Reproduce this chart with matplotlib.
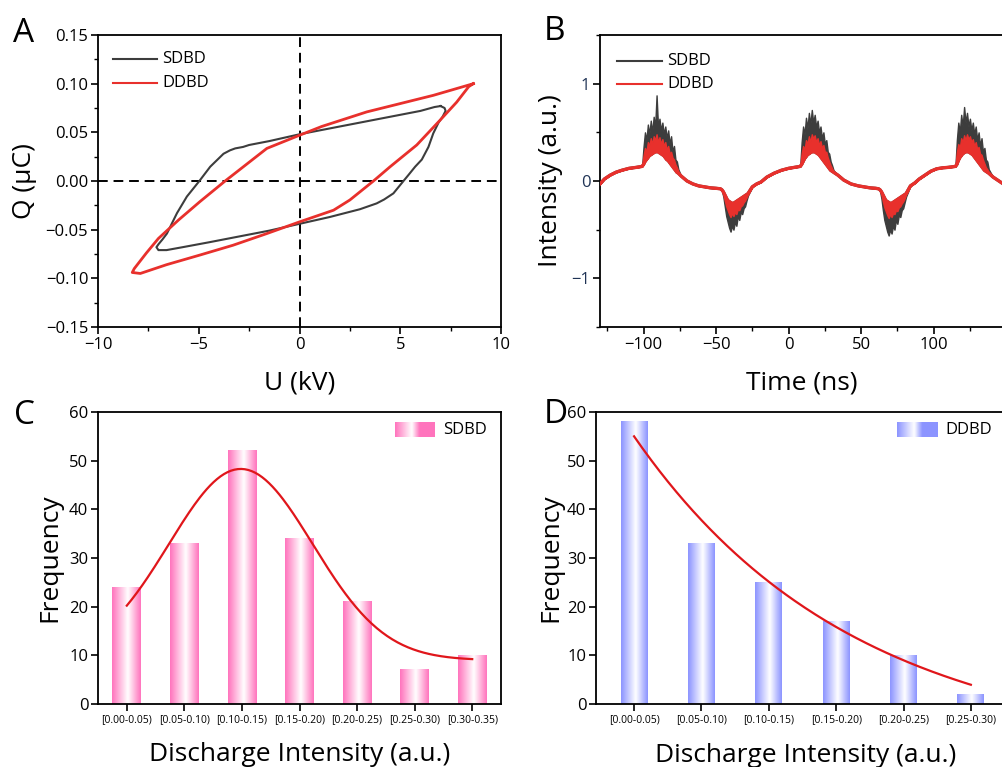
import numpy as np
import matplotlib
matplotlib.use("Agg")
import matplotlib.pyplot as plt
from matplotlib.colors import LinearSegmentedColormap
from matplotlib.ticker import MultipleLocator

plt.rcParams["font.family"] = ["Open Sans", "DejaVu Sans"]
plt.rcParams["axes.linewidth"] = 1.3

GRAY = "#3d3d3d"
RED = "#e8302c"
PINK = "#ff74bd"
BLUE = "#8c94ff"

# ── Panel A: Q-U Lissajous loops (U in kV, Q in uC) ──────────────────────────
SDBD_U = [7.0, 7.2, 7.25, 7.1, 6.9, 6.64, 6.4, 6.07, 5.74, 5.4, 5.16, 4.66, 4.2,
          3.83, 3.0, 1.5, 0.0, -1.5, -3.0, -4.5, -5.8, -6.6, -7.0, -7.1, -7.0,
          -6.8, -6.58, -6.08, -5.59, -4.97, -4.43, -3.77, -3.45, -3.19, -2.8,
          -2.5, -1.5, 0.0, 1.5, 3.0, 4.5, 6.0, 6.7, 7.0]
SDBD_Q = [0.077, 0.075, 0.072, 0.066, 0.060, 0.049, 0.035, 0.022, 0.0147, 0.006,
          0.0, -0.0127, -0.019, -0.023, -0.029, -0.037, -0.044, -0.051, -0.057,
          -0.063, -0.068, -0.071, -0.071, -0.068, -0.065, -0.060, -0.054, -0.033,
          -0.016, 0.0, 0.0147, 0.028, 0.0315, 0.0335, 0.035, 0.037, 0.041, 0.048,
          0.054, 0.060, 0.066, 0.072, 0.076, 0.077]

DDBD_U = [8.63, 6.64, 3.34, 1.1, 0.0, -1.62, -3.69, -4.93, -6.0, -7.0,
          -7.6, -8.2, -8.3, -7.9, -6.6, -4.93, -3.3, -1.62, 0.0, 1.69, 2.5,
          3.67, 4.5, 5.82, 7.0, 7.8, 8.4, 8.63]
DDBD_Q = [0.100, 0.088, 0.071, 0.056, 0.047, 0.0335, 0.0, -0.021, -0.040,
          -0.059, -0.074, -0.090, -0.094, -0.095, -0.086, -0.076, -0.066, -0.054,
          -0.042, -0.030, -0.0195, 0.0, 0.0147, 0.037, 0.063, 0.081, 0.097, 0.100]

# ── Panel B: emission waveform (base trace + burst extremes) ─────────────────
T_B = [-130, -127, -123, -119, -115, -110, -105, -101,
       -100, -99, -98, -97, -96, -95, -94, -93, -92, -91, -90, -89, -88, -87,
       -86, -85, -84, -83, -82, -81, -80, -79, -78, -77, -76,
       -74, -70, -66, -62, -58, -54, -50, -47,
       -46, -45, -44, -43, -42, -41, -40, -39, -38, -37, -36, -35, -34, -33,
       -32, -31, -30, -29, -28,
       -25, -22, -19, -15, -10, -5, 0, 4, 8,
       9, 10, 11, 12, 13, 14, 15, 16, 17, 18, 19, 20, 21, 22, 23, 24, 25, 26,
       27, 28, 29, 30, 31,
       34, 38, 43, 48, 52, 56, 60, 62,
       63, 64, 65, 66, 67, 68, 69, 70, 71, 72, 73, 74, 75, 76, 77, 78, 79, 80, 81,
       84, 87, 90, 94, 98, 102, 106, 110, 115,
       116, 117, 118, 119, 120, 121, 122, 123, 124, 125, 126, 127, 128, 129,
       130, 131, 132, 133, 134, 135, 136, 137, 138,
       141, 145, 148, 151]
BASE_B = [-0.03, 0.02, 0.06, 0.09, 0.11, 0.13, 0.14, 0.15,
          0.17, 0.20, 0.22, 0.24, 0.26, 0.27, 0.28, 0.29, 0.30, 0.30, 0.30, 0.29,
          0.28, 0.27, 0.26, 0.24, 0.22, 0.21, 0.19, 0.17, 0.15, 0.13, 0.11, 0.09, 0.08,
          0.05, 0.0, -0.03, -0.05, -0.06, -0.07, -0.075, -0.08,
          -0.09, -0.11, -0.14, -0.17, -0.20, -0.21, -0.22, -0.23, -0.23, -0.22,
          -0.21, -0.20, -0.19, -0.18, -0.17, -0.16, -0.15, -0.14, -0.13,
          -0.06, -0.03, -0.01, 0.04, 0.08, 0.11, 0.13, 0.14, 0.15,
          0.17, 0.20, 0.23, 0.25, 0.27, 0.28, 0.29, 0.30, 0.30, 0.30, 0.29, 0.28,
          0.27, 0.25, 0.23, 0.21, 0.19, 0.17, 0.15, 0.13, 0.11, 0.10, 0.09,
          0.06, 0.01, -0.03, -0.05, -0.06, -0.07, -0.075, -0.08,
          -0.09, -0.11, -0.14, -0.17, -0.20, -0.21, -0.22, -0.23, -0.23, -0.22,
          -0.21, -0.20, -0.19, -0.18, -0.17, -0.16, -0.15, -0.14, -0.13,
          -0.05, -0.02, 0.02, 0.06, 0.10, 0.125, 0.135, 0.14, 0.15,
          0.17, 0.21, 0.24, 0.26, 0.28, 0.29, 0.30, 0.30, 0.30, 0.29, 0.28, 0.27,
          0.25, 0.23, 0.21, 0.19, 0.17, 0.15, 0.13, 0.11, 0.10, 0.09, 0.08,
          0.04, 0.0, -0.03, -0.05]
DDBD_EXT = [-0.03, 0.02, 0.06, 0.09, 0.11, 0.13, 0.14, 0.15,
            0.26, 0.34, 0.30, 0.40, 0.36, 0.44, 0.38, 0.46, 0.42, 0.48, 0.40, 0.45,
            0.38, 0.43, 0.36, 0.40, 0.32, 0.36, 0.28, 0.30, 0.24, 0.22, 0.17, 0.14, 0.10,
            0.05, 0.0, -0.03, -0.05, -0.06, -0.07, -0.075, -0.08,
            -0.10, -0.14, -0.20, -0.26, -0.30, -0.34, -0.37, -0.33, -0.36, -0.32,
            -0.34, -0.29, -0.30, -0.26, -0.25, -0.22, -0.20, -0.17, -0.14,
            -0.06, -0.03, -0.01, 0.04, 0.08, 0.11, 0.13, 0.14, 0.15,
            0.28, 0.36, 0.32, 0.42, 0.38, 0.46, 0.40, 0.48, 0.44, 0.47, 0.40, 0.44,
            0.37, 0.41, 0.34, 0.37, 0.30, 0.30, 0.24, 0.20, 0.16, 0.13, 0.10,
            0.06, 0.01, -0.03, -0.05, -0.06, -0.07, -0.075, -0.08,
            -0.10, -0.14, -0.21, -0.27, -0.31, -0.35, -0.38, -0.34, -0.37, -0.33,
            -0.34, -0.30, -0.31, -0.27, -0.26, -0.23, -0.21, -0.18, -0.14,
            -0.05, -0.02, 0.02, 0.06, 0.10, 0.125, 0.135, 0.14, 0.15,
            0.30, 0.38, 0.34, 0.44, 0.40, 0.47, 0.42, 0.48, 0.43, 0.46, 0.40, 0.43,
            0.36, 0.40, 0.33, 0.35, 0.28, 0.27, 0.22, 0.18, 0.14, 0.12, 0.09,
            0.04, 0.0, -0.03, -0.05]
SDBD_EXT = [-0.03, 0.02, 0.06, 0.09, 0.11, 0.13, 0.14, 0.15,
            0.35, 0.50, 0.42, 0.58, 0.48, 0.62, 0.50, 0.66, 0.55, 0.88, 0.56, 0.64,
            0.52, 0.60, 0.48, 0.56, 0.44, 0.52, 0.38, 0.46, 0.30, 0.36, 0.22, 0.20, 0.12,
            0.05, 0.0, -0.03, -0.05, -0.06, -0.07, -0.075, -0.08,
            -0.10, -0.16, -0.26, -0.36, -0.42, -0.48, -0.52, -0.46, -0.50, -0.42,
            -0.46, -0.36, -0.40, -0.32, -0.34, -0.28, -0.26, -0.20, -0.15,
            -0.06, -0.03, -0.01, 0.04, 0.08, 0.11, 0.13, 0.14, 0.15,
            0.40, 0.56, 0.48, 0.65, 0.54, 0.70, 0.58, 0.73, 0.60, 0.68, 0.55, 0.62,
            0.50, 0.56, 0.44, 0.50, 0.38, 0.42, 0.30, 0.28, 0.20, 0.16, 0.11,
            0.06, 0.01, -0.03, -0.05, -0.06, -0.07, -0.075, -0.08,
            -0.10, -0.18, -0.30, -0.40, -0.46, -0.52, -0.56, -0.50, -0.54, -0.46,
            -0.50, -0.40, -0.44, -0.35, -0.37, -0.30, -0.28, -0.22, -0.16,
            -0.05, -0.02, 0.02, 0.06, 0.10, 0.125, 0.135, 0.14, 0.15,
            0.42, 0.60, 0.50, 0.68, 0.56, 0.76, 0.60, 0.70, 0.56, 0.64, 0.52, 0.60,
            0.48, 0.56, 0.42, 0.50, 0.36, 0.44, 0.30, 0.34, 0.22, 0.20, 0.12,
            0.04, 0.0, -0.03, -0.05]

# ── Panels C and D: discharge intensity histograms ───────────────────────────
BINS_C = ["[0.00-0.05)", "[0.05-0.10)", "[0.10-0.15)", "[0.15-0.20)",
          "[0.20-0.25)", "[0.25-0.30)", "[0.30-0.35)"]
FREQ_C = [24, 33, 52, 34, 21, 7, 10]
BINS_D = BINS_C[:6]
FREQ_D = [58, 33, 25, 17, 10, 2]

# fit parameters (x in bin-index units)
GAUSS_C = dict(y0=9.0, A=39.3, xc=1.98, w=1.25)
EXPDEC_D = dict(y0=-10.0, A=65.0, t=3.25)

LABEL_FS = 19
TICK_FS = 12


def px_axes(fig, left, top, right, bottom):
    W, H = 1002, 767
    return fig.add_axes([left / W, 1 - bottom / H, (right - left) / W, (bottom - top) / H])


def style_ticks(ax, labelsize=TICK_FS):
    ax.tick_params(which="major", direction="out", length=5, width=1.2,
                   labelsize=labelsize, pad=2)
    ax.tick_params(which="minor", direction="out", length=3, width=1.0)


def grad_cmap(c):
    return LinearSegmentedColormap.from_list("g", [(0, c), (0.55, "white"), (1, c)])


def gradient_bars(ax, labels, values, width, color):
    x = np.arange(len(labels))
    bars = ax.bar(x, values, width, color="none", edgecolor="none")
    ramp = np.linspace(0, 1, 64).reshape(1, -1)
    for b in bars:
        x0, w, h = b.get_x(), b.get_width(), b.get_height()
        ax.imshow(ramp, cmap=grad_cmap(color), extent=[x0, x0 + w, 0, h],
                  aspect="auto", interpolation="bicubic", zorder=1)
    ax.set_xticks(x)
    ax.set_xticklabels(labels)
    return x


def gradient_legend(ax, x0, x1, y0, y1, color, label, tx):
    ramp = np.linspace(0, 1, 64).reshape(1, -1)
    cm = LinearSegmentedColormap.from_list(
        "l", [(0, color), (0.42, "white"), (0.62, color), (1, color)])
    ax.imshow(ramp, cmap=cm, extent=[x0, x1, y0, y1], transform=ax.transAxes,
              aspect="auto", interpolation="bicubic", zorder=3)
    ax.text(tx, (y0 + y1) / 2, label, transform=ax.transAxes, fontsize=12,
            va="center", ha="left")


fig = plt.figure(figsize=(10.02, 7.67), dpi=100)

# ── A ──
axA = px_axes(fig, 98, 35, 501, 327)
axA.plot(SDBD_U, SDBD_Q, color=GRAY, lw=1.5, zorder=3)
axA.plot(DDBD_U, DDBD_Q, color=RED, lw=2.0, zorder=4)
axA.axhline(0, color="k", lw=1.4, ls=(0, (5, 3)), zorder=2)
axA.axvline(0, color="k", lw=1.4, ls=(0, (5, 3)), zorder=2)
axA.set_xlim(-10, 10)
axA.set_ylim(-0.15, 0.15)
axA.xaxis.set_major_locator(MultipleLocator(5))
axA.xaxis.set_minor_locator(MultipleLocator(2.5))
axA.yaxis.set_major_locator(MultipleLocator(0.05))
axA.yaxis.set_minor_locator(MultipleLocator(0.025))
axA.yaxis.set_major_formatter(lambda v, p: f"{v:.2f}".replace("-", "\u2212"))
style_ticks(axA)
axA.set_xlabel("U (kV)", fontsize=LABEL_FS)
axA.set_ylabel("Q (\u03bcC)", fontsize=LABEL_FS)
axA.xaxis.set_label_coords(0.5, -0.15)
axA.yaxis.set_label_coords(-0.151, 0.5)
for y, c, lab in [(0.918, GRAY, "SDBD"), (0.836, RED, "DDBD")]:
    axA.plot([0.037, 0.146], [y, y], color=c, lw=1.5, transform=axA.transAxes)
    axA.text(0.159, y, lab, transform=axA.transAxes, fontsize=12, va="center")

# ── B ──
axB = px_axes(fig, 600, 35, 1004, 327)
axB.fill_between(T_B, BASE_B, SDBD_EXT, color=GRAY, lw=1.0, zorder=2)
axB.plot(T_B, BASE_B, color=GRAY, lw=2.2, zorder=2)
axB.fill_between(T_B, BASE_B, DDBD_EXT, color=RED, lw=1.0, zorder=3)
axB.plot(T_B, BASE_B, color=RED, lw=2.4, zorder=3)
axB.set_xlim(-130, 148.5)
axB.set_ylim(-1.5, 1.5)
axB.xaxis.set_major_locator(MultipleLocator(50))
axB.xaxis.set_minor_locator(MultipleLocator(25))
axB.yaxis.set_major_locator(MultipleLocator(1))
axB.yaxis.set_minor_locator(MultipleLocator(0.5))
style_ticks(axB)
axB.tick_params(axis="y", labelcolor="#1f3355")
axB.set_xlabel("Time (ns)", fontsize=LABEL_FS)
axB.set_ylabel("Intensity (a.u.)", fontsize=LABEL_FS)
axB.xaxis.set_label_coords(0.5, -0.15)
axB.yaxis.set_label_coords(-0.091, 0.5)
for y, c, lab in [(0.911, GRAY, "SDBD"), (0.832, RED, "DDBD")]:
    axB.plot([0.042, 0.153], [y, y], color=c, lw=1.5, transform=axB.transAxes)
    axB.text(0.167, y, lab, transform=axB.transAxes, fontsize=12, va="center")

# ── C ──
axC = px_axes(fig, 98, 412, 501, 704)
xc = gradient_bars(axC, BINS_C, FREQ_C, 0.5, PINK)
xs = np.linspace(xc[0], xc[-1], 200)
g = GAUSS_C
axC.plot(xs, g["y0"] + g["A"] * np.exp(-(xs - g["xc"]) ** 2 / (2 * g["w"] ** 2)),
         color="#e0161b", lw=1.6, zorder=4)
axC.set_xlim(-0.5, 6.5)
axC.set_ylim(0, 60)
axC.yaxis.set_major_locator(MultipleLocator(10))
style_ticks(axC)
axC.tick_params(axis="x", labelsize=7.5)
gradient_legend(axC, 0.737, 0.836, 0.914, 0.962, PINK, "SDBD", 0.856)
axC.set_xlabel("Discharge Intensity (a.u.)", fontsize=LABEL_FS)
axC.set_ylabel("Frequency", fontsize=LABEL_FS)
axC.xaxis.set_label_coords(0.5, -0.13)
axC.yaxis.set_label_coords(-0.089, 0.5)

# ── D ──
axD = px_axes(fig, 596, 412, 1016, 704)
xd = gradient_bars(axD, BINS_D, FREQ_D, 0.4, BLUE)
xs = np.linspace(xd[0], xd[-1], 200)
e = EXPDEC_D
axD.plot(xs, e["y0"] + e["A"] * np.exp(-xs / e["t"]), color="#e0161b", lw=1.6, zorder=4)
axD.set_xlim(-0.565, 5.67)
axD.set_ylim(0, 60)
axD.yaxis.set_major_locator(MultipleLocator(10))
style_ticks(axD)
axD.tick_params(axis="x", labelsize=7.5)
gradient_legend(axD, 0.717, 0.814, 0.914, 0.962, BLUE, "DDBD", 0.831)
axD.set_xlabel("Discharge Intensity (a.u.)", fontsize=LABEL_FS)
axD.set_ylabel("Frequency", fontsize=LABEL_FS)
axD.xaxis.set_label_coords(0.5, -0.133)
axD.yaxis.set_label_coords(-0.0786, 0.5)

for lab, x, y in [("A", 13, 42), ("B", 544, 40), ("C", 14, 424), ("D", 544, 423)]:
    fig.text(x / 1002, 1 - y / 767, lab, fontsize=24, va="baseline", ha="left")

fig.savefig("out.png", dpi=100)
